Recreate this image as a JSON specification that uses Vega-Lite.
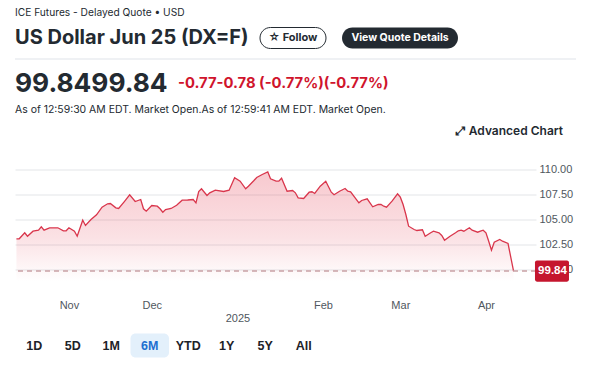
{
  "$schema": "https://vega.github.io/schema/vega-lite/v6.json",
  "padding": {"left": 14, "top": 7.5, "right": 0, "bottom": 0},
  "background": "#ffffff",
  "config": {"view": {"stroke": null}},
  "spacing": 10,
  "bounds": "flush",
  "datasets": {
    "prices": [
      {"date": "2024-10-13", "close": 103.07}, {"date": "2024-10-14", "close": 103.07},
      {"date": "2024-10-16", "close": 103.67}, {"date": "2024-10-17", "close": 103.33},
      {"date": "2024-10-19", "close": 103.83}, {"date": "2024-10-21", "close": 103.93},
      {"date": "2024-10-22", "close": 104.27}, {"date": "2024-10-23", "close": 103.93},
      {"date": "2024-10-25", "close": 104.17}, {"date": "2024-10-28", "close": 104.17},
      {"date": "2024-10-30", "close": 103.87}, {"date": "2024-10-31", "close": 103.87},
      {"date": "2024-11-01", "close": 104.17}, {"date": "2024-11-03", "close": 103.83},
      {"date": "2024-11-04", "close": 103.33}, {"date": "2024-11-06", "close": 104.93},
      {"date": "2024-11-07", "close": 104.40}, {"date": "2024-11-09", "close": 105.00},
      {"date": "2024-11-11", "close": 105.47}, {"date": "2024-11-13", "close": 106.23},
      {"date": "2024-11-15", "close": 106.57}, {"date": "2024-11-16", "close": 106.60},
      {"date": "2024-11-18", "close": 106.17}, {"date": "2024-11-19", "close": 106.10},
      {"date": "2024-11-21", "close": 106.77}, {"date": "2024-11-23", "close": 107.47},
      {"date": "2024-11-25", "close": 106.80}, {"date": "2024-11-27", "close": 107.00},
      {"date": "2024-11-28", "close": 106.07}, {"date": "2024-11-29", "close": 105.83},
      {"date": "2024-12-01", "close": 106.40}, {"date": "2024-12-03", "close": 106.33},
      {"date": "2024-12-04", "close": 106.07}, {"date": "2024-12-05", "close": 105.73},
      {"date": "2024-12-06", "close": 106.00}, {"date": "2024-12-08", "close": 106.10},
      {"date": "2024-12-10", "close": 106.43}, {"date": "2024-12-12", "close": 106.93},
      {"date": "2024-12-14", "close": 106.95}, {"date": "2024-12-16", "close": 107.00},
      {"date": "2024-12-17", "close": 106.67}, {"date": "2024-12-18", "close": 107.80},
      {"date": "2024-12-19", "close": 108.07}, {"date": "2024-12-21", "close": 107.40},
      {"date": "2024-12-22", "close": 107.67}, {"date": "2024-12-24", "close": 107.93},
      {"date": "2024-12-27", "close": 107.80}, {"date": "2024-12-29", "close": 107.93},
      {"date": "2024-12-31", "close": 109.17}, {"date": "2025-01-02", "close": 108.83},
      {"date": "2025-01-04", "close": 108.07}, {"date": "2025-01-05", "close": 108.33},
      {"date": "2025-01-07", "close": 108.90}, {"date": "2025-01-08", "close": 109.20},
      {"date": "2025-01-10", "close": 109.50}, {"date": "2025-01-12", "close": 109.77},
      {"date": "2025-01-13", "close": 109.07}, {"date": "2025-01-15", "close": 108.83},
      {"date": "2025-01-16", "close": 108.83}, {"date": "2025-01-17", "close": 109.13},
      {"date": "2025-01-19", "close": 107.83}, {"date": "2025-01-21", "close": 107.90},
      {"date": "2025-01-22", "close": 107.67}, {"date": "2025-01-23", "close": 107.17},
      {"date": "2025-01-25", "close": 107.10}, {"date": "2025-01-27", "close": 107.73},
      {"date": "2025-01-28", "close": 107.77}, {"date": "2025-01-29", "close": 107.60},
      {"date": "2025-01-31", "close": 108.33}, {"date": "2025-02-02", "close": 108.83},
      {"date": "2025-02-04", "close": 107.73}, {"date": "2025-02-05", "close": 107.47},
      {"date": "2025-02-07", "close": 107.83}, {"date": "2025-02-09", "close": 108.10},
      {"date": "2025-02-10", "close": 107.83}, {"date": "2025-02-11", "close": 107.77},
      {"date": "2025-02-14", "close": 106.67}, {"date": "2025-02-15", "close": 106.90},
      {"date": "2025-02-17", "close": 107.07}, {"date": "2025-02-19", "close": 106.27},
      {"date": "2025-02-21", "close": 106.50}, {"date": "2025-02-22", "close": 106.50},
      {"date": "2025-02-23", "close": 106.33}, {"date": "2025-02-24", "close": 106.23},
      {"date": "2025-02-26", "close": 106.83}, {"date": "2025-02-28", "close": 107.57},
      {"date": "2025-03-01", "close": 107.23}, {"date": "2025-03-02", "close": 106.50},
      {"date": "2025-03-03", "close": 105.50}, {"date": "2025-03-04", "close": 104.33},
      {"date": "2025-03-06", "close": 104.00}, {"date": "2025-03-07", "close": 103.90},
      {"date": "2025-03-09", "close": 103.97}, {"date": "2025-03-10", "close": 103.33},
      {"date": "2025-03-12", "close": 103.67}, {"date": "2025-03-13", "close": 103.83},
      {"date": "2025-03-15", "close": 103.67}, {"date": "2025-03-16", "close": 103.40},
      {"date": "2025-03-17", "close": 102.93}, {"date": "2025-03-19", "close": 103.33},
      {"date": "2025-03-21", "close": 103.67}, {"date": "2025-03-22", "close": 103.87},
      {"date": "2025-03-23", "close": 103.93}, {"date": "2025-03-24", "close": 103.83},
      {"date": "2025-03-26", "close": 104.17}, {"date": "2025-03-27", "close": 103.93},
      {"date": "2025-03-29", "close": 103.73}, {"date": "2025-03-30", "close": 103.83},
      {"date": "2025-03-31", "close": 103.93}, {"date": "2025-04-01", "close": 103.67},
      {"date": "2025-04-02", "close": 102.83}, {"date": "2025-04-03", "close": 101.93},
      {"date": "2025-04-04", "close": 102.73}, {"date": "2025-04-06", "close": 103.00},
      {"date": "2025-04-07", "close": 102.83}, {"date": "2025-04-09", "close": 102.60},
      {"date": "2025-04-11", "close": 99.84}
    ],
    "last": [{"close": 99.84, "label": "99.84"}]
  },
  "vconcat": [
    {
      "width": 561, "height": 10,
      "data": {"values": [{"t": "ICE Futures - Delayed Quote • USD"}]},
      "mark": {"type": "text", "align": "left", "baseline": "middle", "font": "Inter", "fontSize": 10.2, "color": "#232a31"},
      "encoding": {
        "text": {"field": "t"},
        "x": {"field": "t", "type": "nominal", "axis": null, "bandPosition": 0, "scale": {"type": "band", "paddingInner": 0, "paddingOuter": 0}}
      }
    },
    {
      "hconcat": [
        {
          "width": 229, "height": 21,
          "data": {"values": [{"t": "US Dollar Jun 25 (DX=F)"}]},
          "mark": {"type": "text", "align": "left", "baseline": "middle", "font": "Inter", "fontSize": 20, "fontWeight": 700, "color": "#232a31"},
          "encoding": {
            "text": {"field": "t"},
            "x": {"field": "t", "type": "nominal", "axis": null, "bandPosition": 0, "scale": {"type": "band", "paddingInner": 0, "paddingOuter": 0}}
          }
        },
        {
          "width": 66, "height": 21,
          "data": {"values": [{"b": "☆ Follow"}]},
          "layer": [
            {"mark": {"type": "rect", "cornerRadius": 10.5, "fill": "#ffffff", "stroke": "#232a31", "strokeWidth": 1}, "encoding": {}},
            {"mark": {"type": "text", "font": "Inter, DejaVu Sans", "fontSize": 11, "fontWeight": 700, "color": "#232a31"}, "encoding": {"text": {"field": "b"}}}
          ]
        },
        {
          "width": 116, "height": 21,
          "data": {"values": [{"b": "View Quote Details"}]},
          "layer": [
            {"mark": {"type": "rect", "cornerRadius": 10.5, "fill": "#232a31"}, "encoding": {}},
            {"mark": {"type": "text", "font": "Inter", "fontSize": 10.5, "fontWeight": 700, "color": "#ffffff"}, "encoding": {"text": {"field": "b"}}}
          ]
        }
      ],
      "spacing": 16,
      "bounds": "flush"
    },
    {
      "width": 1, "height": 11,
      "data": {"values": [{"d": 1}]},
      "mark": {"type": "rect", "opacity": 0},
      "encoding": {}
    },
    {
      "width": 561, "height": 1,
      "data": {"values": [{"d": 1}]},
      "mark": {"type": "rect", "fill": "#e0e4e9"},
      "encoding": {}
    },
    {
      "width": 326, "height": 28,
      "data": {"values": [{"part": "price", "t": "99.8499.84"}, {"part": "change", "t": "-0.77-0.78 (-0.77%)(-0.77%)"}]},
      "encoding": {
        "text": {"field": "t"},
        "x": {"field": "part", "type": "nominal", "axis": null, "bandPosition": 0, "scale": {"type": "band", "paddingInner": 0, "paddingOuter": 0, "domain": ["price", "change"]}}
      },
      "layer": [
        {
          "transform": [{"filter": "datum.part === 'price'"}],
          "mark": {"type": "text", "align": "left", "baseline": "middle", "font": "Inter", "fontSize": 26.3, "fontWeight": 700, "color": "#232a31"}
        },
        {
          "transform": [{"filter": "datum.part === 'change'"}],
          "mark": {"type": "text", "align": "left", "baseline": "middle", "font": "Inter", "fontSize": 14.8, "fontWeight": 700, "color": "#d0142c"}
        }
      ]
    },
    {
      "width": 561, "height": 4,
      "data": {"values": [{"t": "As of 12:59:30 AM EDT. Market Open.As of 12:59:41 AM EDT. Market Open."}]},
      "mark": {"type": "text", "align": "left", "baseline": "middle", "font": "Inter", "fontSize": 10.45, "color": "#232a31"},
      "encoding": {
        "text": {"field": "t"},
        "x": {"field": "t", "type": "nominal", "axis": null, "bandPosition": 0, "scale": {"type": "band", "paddingInner": 0, "paddingOuter": 0}}
      }
    },
    {
      "width": 548, "height": 18,
      "data": {"values": [{"t": "⤢ Advanced Chart"}]},
      "mark": {"type": "text", "align": "right", "baseline": "middle", "font": "Inter, DejaVu Sans", "fontSize": 12, "fontWeight": 600, "color": "#232a31"},
      "encoding": {
        "text": {"field": "t"},
        "x": {"field": "t", "type": "nominal", "axis": null, "bandPosition": 1, "scale": {"type": "band", "paddingInner": 0, "paddingOuter": 0}}
      }
    },
    {
      "width": 521, "height": 132,
      "layer": [
        {
          "data": {"name": "prices"},
          "mark": {"type": "area", "interpolate": "linear", "line": false, "clip": true,
            "fill": {"gradient": "linear", "x1": 0, "y1": 0, "x2": 0, "y2": 1,
              "stops": [
                {"offset": 0, "color": "rgba(226,46,68,0.26)"},
                {"offset": 0.6, "color": "rgba(226,46,68,0.14)"},
                {"offset": 1, "color": "rgba(226,46,68,0)"}
              ]}},
          "encoding": {
            "x": {"field": "date", "type": "temporal",
              "scale": {"type": "utc", "domain": [{"year": 2024, "month": "oct", "date": 12, "hours": 11, "minutes": 30, "utc": true}, {"year": 2025, "month": "apr", "date": 19, "hours": 3, "utc": true}]},
              "axis": {
                "title": null, "domain": false, "ticks": false, "grid": false,
                "values": [
                  {"year": 2024, "month": "nov", "date": 1, "utc": true},
                  {"year": 2024, "month": "dec", "date": 1, "utc": true},
                  {"year": 2025, "month": "jan", "date": 1, "utc": true},
                  {"year": 2025, "month": "feb", "date": 1, "utc": true},
                  {"year": 2025, "month": "mar", "date": 1, "utc": true},
                  {"year": 2025, "month": "apr", "date": 1, "utc": true}
                ],
                "labelExpr": "utcmonth(datum.value) == 0 ? ['', utcFormat(datum.value, '%Y')] : utcFormat(datum.value, '%b')",
                "labelPadding": 17.5, "labelLineHeight": 13, "labelFlush": false, "labelOverlap": false, "labelBound": false,
                "labelFont": "Liberation Sans", "labelFontSize": 11, "labelColor": "#50575e"
              }},
            "y": {"field": "close", "type": "quantitative",
              "scale": {"domain": [98.8, 112], "zero": false, "nice": false},
              "axis": {
                "title": null, "orient": "right", "domain": false, "ticks": false, "grid": true,
                "gridColor": "#e3e5e8", "gridWidth": 1, "labelOverlap": false, "labelBound": false, "labelFlush": false,
                "values": [100, 102.5, 105, 107.5, 110], "format": ".2f",
                "labelPadding": 3, "labelAlign": "left",
                "labelFont": "Liberation Sans", "labelFontSize": 11, "labelColor": "#50575e"
              }},
            "y2": {"datum": 98.8}
          }
        },
        {
          "data": {"name": "prices"},
          "mark": {"type": "line", "color": "#d9364c", "strokeWidth": 1.3, "interpolate": "linear", "clip": true},
          "encoding": {
            "x": {"field": "date", "type": "temporal",
              "scale": {"type": "utc", "domain": [{"year": 2024, "month": "oct", "date": 12, "hours": 11, "minutes": 30, "utc": true}, {"year": 2025, "month": "apr", "date": 19, "hours": 3, "utc": true}]},
              "axis": {
                "title": null, "domain": false, "ticks": false, "grid": false,
                "values": [
                  {"year": 2024, "month": "nov", "date": 1, "utc": true},
                  {"year": 2024, "month": "dec", "date": 1, "utc": true},
                  {"year": 2025, "month": "jan", "date": 1, "utc": true},
                  {"year": 2025, "month": "feb", "date": 1, "utc": true},
                  {"year": 2025, "month": "mar", "date": 1, "utc": true},
                  {"year": 2025, "month": "apr", "date": 1, "utc": true}
                ],
                "labelExpr": "utcmonth(datum.value) == 0 ? ['', utcFormat(datum.value, '%Y')] : utcFormat(datum.value, '%b')",
                "labelPadding": 17.5, "labelLineHeight": 13, "labelFlush": false, "labelOverlap": false, "labelBound": false,
                "labelFont": "Liberation Sans", "labelFontSize": 11, "labelColor": "#50575e"
              }},
            "y": {"field": "close", "type": "quantitative",
              "scale": {"domain": [98.8, 112], "zero": false, "nice": false},
              "axis": {
                "title": null, "orient": "right", "domain": false, "ticks": false, "grid": true,
                "gridColor": "#e3e5e8", "gridWidth": 1, "labelOverlap": false, "labelBound": false, "labelFlush": false,
                "values": [100, 102.5, 105, 107.5, 110], "format": ".2f",
                "labelPadding": 3, "labelAlign": "left",
                "labelFont": "Liberation Sans", "labelFontSize": 11, "labelColor": "#50575e"
              }}
          }
        },
        {
          "data": {"name": "last"},
          "mark": {"type": "rule", "color": "#c9a1a5", "strokeWidth": 1.5, "strokeDash": [5, 4]},
          "encoding": {
            "y": {"field": "close", "type": "quantitative",
              "scale": {"domain": [98.8, 112], "zero": false, "nice": false},
              "axis": {
                "title": null, "orient": "right", "domain": false, "ticks": false, "grid": true,
                "gridColor": "#e3e5e8", "gridWidth": 1, "labelOverlap": false, "labelBound": false, "labelFlush": false,
                "values": [100, 102.5, 105, 107.5, 110], "format": ".2f",
                "labelPadding": 3, "labelAlign": "left",
                "labelFont": "Liberation Sans", "labelFontSize": 11, "labelColor": "#50575e"
              }}
          }
        },
        {
          "data": {"name": "last"},
          "mark": {"type": "point", "filled": true, "opacity": 1, "color": "#c5162e", "strokeWidth": 0, "size": 1156,
            "shape": "M 0.06 -0.62 L 1.82 -0.62 Q 1.94 -0.62 1.94 -0.5 L 1.94 0.5 Q 1.94 0.62 1.82 0.62 L 0.06 0.62 Q -0.06 0.62 -0.06 0.5 L -0.06 -0.5 Q -0.06 -0.62 0.06 -0.62 Z"},
          "encoding": {
            "x": {"value": "width"},
            "y": {"field": "close", "type": "quantitative",
              "scale": {"domain": [98.8, 112], "zero": false, "nice": false},
              "axis": {
                "title": null, "orient": "right", "domain": false, "ticks": false, "grid": true,
                "gridColor": "#e3e5e8", "gridWidth": 1, "labelOverlap": false, "labelBound": false, "labelFlush": false,
                "values": [100, 102.5, 105, 107.5, 110], "format": ".2f",
                "labelPadding": 3, "labelAlign": "left",
                "labelFont": "Liberation Sans", "labelFontSize": 11, "labelColor": "#50575e"
              }}
          }
        },
        {
          "data": {"name": "last"},
          "mark": {"type": "text", "dx": 16.5, "align": "center", "baseline": "middle", "font": "Liberation Sans", "fontSize": 11.5, "fontWeight": 700, "color": "#ffffff"},
          "encoding": {
            "x": {"value": "width"},
            "y": {"field": "close", "type": "quantitative",
              "scale": {"domain": [98.8, 112], "zero": false, "nice": false},
              "axis": {
                "title": null, "orient": "right", "domain": false, "ticks": false, "grid": true,
                "gridColor": "#e3e5e8", "gridWidth": 1, "labelOverlap": false, "labelBound": false, "labelFlush": false,
                "values": [100, 102.5, 105, 107.5, 110], "format": ".2f",
                "labelPadding": 3, "labelAlign": "left",
                "labelFont": "Liberation Sans", "labelFontSize": 11, "labelColor": "#50575e"
              }},
            "text": {"field": "label"}
          }
        }
      ]
    },
    {
      "width": 1, "height": 32,
      "data": {"values": [{"d": 1}]},
      "mark": {"type": "rect", "opacity": 0},
      "encoding": {}
    },
    {
      "width": 308, "height": 24,
      "data": {"values": [{"r": "1D"}, {"r": "5D"}, {"r": "1M"}, {"r": "6M"}, {"r": "YTD"}, {"r": "1Y"}, {"r": "5Y"}, {"r": "All"}]},
      "layer": [
        {
          "transform": [{"filter": "datum.r === '6M'"}],
          "mark": {"type": "rect", "cornerRadius": 5, "fill": "#e3f0fb"},
          "encoding": {
            "x": {"field": "r", "type": "nominal", "axis": null,
              "scale": {"type": "band", "paddingInner": 0, "paddingOuter": 0, "domain": ["1D", "5D", "1M", "6M", "YTD", "1Y", "5Y", "All"]}}
          }
        },
        {
          "mark": {"type": "text", "align": "center", "baseline": "middle", "font": "Liberation Sans", "fontSize": 12.5, "fontWeight": 700},
          "encoding": {
            "x": {"field": "r", "type": "nominal", "axis": null,
              "scale": {"type": "band", "paddingInner": 0, "paddingOuter": 0, "domain": ["1D", "5D", "1M", "6M", "YTD", "1Y", "5Y", "All"]}},
            "text": {"field": "r"},
            "color": {"condition": {"test": "datum.r === '6M'", "value": "#1d6fd0"}, "value": "#1d2228"}
          }
        }
      ]
    }
  ]
}
